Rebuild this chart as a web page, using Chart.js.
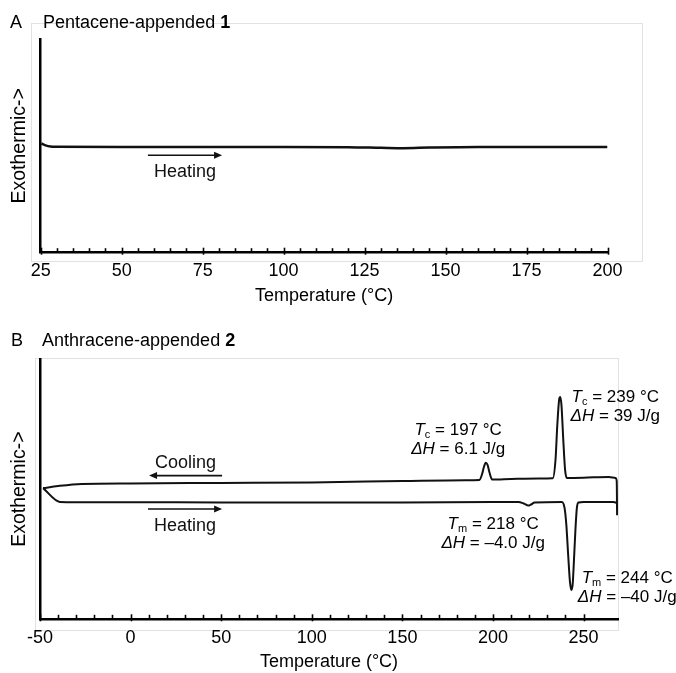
<!DOCTYPE html>
<html>
<head>
<meta charset="utf-8">
<script src="https://cdn.jsdelivr.net/npm/chart.js@4.4.1/dist/chart.umd.min.js"></script>
<style>
  html, body { margin: 0; padding: 0; background: #fff; }
  #wrap { position: relative; width: 676px; height: 673px; }
  .panel { position: absolute; left: 0; width: 676px; }
  #panelA { top: 0; height: 320px; }
  #panelB { top: 320px; height: 353px; }
</style>
</head>
<body>
<div id="wrap">
  <div class="panel" id="panelA"><canvas id="chartA"></canvas></div>
  <div class="panel" id="panelB"><canvas id="chartB"></canvas></div>
</div>
<script>
// Datos (flujo de calor en unidades arbitrarias, 0-100).
// Panel A: pentaceno, solo calentamiento.
const tempA = [25.2, 26.5, 28, 30, 50, 75, 100, 120, 130, 137, 145, 160, 180, 200];
const flujoA = [51.1, 50.2, 49.7, 49.6, 49.5, 49.5, 49.5, 49.4, 49.1, 48.9, 49.2, 49.5, 49.5, 49.5];
const etiquetasA = [25, 50, 75, 100, 125, 150, 175, 200];

// Panel B: antraceno, enfriamiento y calentamiento.
const tempEnfriamiento = [-48.3, -40, -27, 0, 50, 100, 150, 185, 192.5, 194, 195, 196, 197, 198, 199.5,
  210, 225, 233, 234.5, 235.5, 236.5, 237.1, 237.8, 238.8, 239.8, 240.8, 250, 264, 267.6, 268.3, 268.5];
const flujoEnfriamiento = [50.4, 51.2, 52.0, 52.2, 52.4, 52.6, 53.1, 53.4, 53.5, 55.8, 58.5, 60.1, 59.3, 56.6, 53.7,
  53.9, 54.1, 54.2, 61.2, 74.6, 84.3, 85.4, 82.3, 68.9, 57.4, 54.3, 54.4, 54.7, 54.3, 53.1, 40.0];
const tempCalentamiento = [-48.3, -39, -30, 0, 50, 100, 150, 200, 214, 217, 219.5, 221, 223,
  238, 239.5, 240.5, 241.5, 242.5, 243.3, 244, 244.7, 245.5, 246.3, 247.2, 250, 266.5, 268.3];
const flujoCalentamiento = [50.4, 45.1, 45.0, 45.0, 44.9, 44.9, 44.9, 45.1, 45.1, 44.5, 43.7, 44.1, 44.9,
  45.1, 42.8, 36.2, 24.7, 14.3, 11.3, 13.6, 22.8, 34.3, 42.8, 44.9, 45.1, 45.1, 44.7];
const etiquetasB = [-50, 0, 50, 100, 150, 200, 250];

const FUENTE = '"Liberation Sans", Arial, Helvetica, sans-serif';
const NEGRO = "#111";
const TAM = 18;

function fuenteDe(parte, size) {
  const s = parte.sub ? Math.round(size * 0.62) : size;
  return `${parte.italic ? "italic " : ""}${parte.bold ? "bold " : ""}${s}px ${FUENTE}`;
}

// Texto con partes en cursiva / negrita / subindice.
function textoMixto(ctx, partes, x, y, size, align) {
  let total = 0;
  partes.forEach(p => { ctx.font = fuenteDe(p, size); total += ctx.measureText(p.t).width; });
  let cx = align === "center" ? x - total / 2 : x;
  ctx.textAlign = "left";
  ctx.textBaseline = "alphabetic";
  partes.forEach(p => {
    ctx.font = fuenteDe(p, size);
    ctx.fillText(p.t, cx, p.sub ? y + size * 0.18 : y);
    cx += ctx.measureText(p.t).width;
  });
}

function flecha(ctx, x1, x2, y) {
  const dir = Math.sign(x2 - x1);
  ctx.beginPath();
  ctx.moveTo(x1, y);
  ctx.lineTo(x2 - dir * 6, y);
  ctx.stroke();
  ctx.beginPath();
  ctx.moveTo(x2, y);
  ctx.lineTo(x2 - dir * 8, y - 3.5);
  ctx.lineTo(x2 - dir * 8, y + 3.5);
  ctx.closePath();
  ctx.fill();
}

// Marco gris claro, marcas internas del eje x, titulo del panel, flechas y anotaciones.
const decoraciones = {
  id: "decoraciones",
  beforeDraw(chart, args, opts) {
    const { ctx, chartArea: a } = chart;
    const m = opts.marco;
    ctx.save();
    ctx.strokeStyle = "#e2e2e2";
    ctx.lineWidth = 1;
    ctx.strokeRect(a.left + m[0] + 0.5, a.top + m[1] + 0.5, a.right - a.left + m[2] - m[0], a.bottom - a.top + m[3] - m[1]);
    ctx.restore();
  },
  afterDraw(chart, args, opts) {
    const { ctx, chartArea: a, scales } = chart;
    const sx = scales.x;
    const sy = scales.y;
    ctx.save();

    // marcas del eje x hacia dentro
    ctx.strokeStyle = "#000";
    ctx.lineWidth = 1.6;
    sx.ticks.forEach(t => {
      if (t.value % opts.paso !== 0) return;
      const px = Math.round(sx.getPixelForValue(t.value)) + 0.5;
      const mayor = opts.etiquetas.includes(t.value);
      ctx.beginPath();
      ctx.moveTo(px, a.bottom - (mayor ? 5 : 4.5));
      ctx.lineTo(px, a.bottom + (mayor ? 2 : 0));
      ctx.stroke();
    });

    // titulo del panel
    ctx.fillStyle = "#000";
    textoMixto(ctx, [{ t: opts.letra }], opts.titulo.xLetra, opts.titulo.base, TAM, "left");
    textoMixto(ctx, opts.titulo.partes, opts.titulo.x, opts.titulo.base, TAM, "left");

    // flechas con rotulo
    ctx.fillStyle = NEGRO;
    ctx.strokeStyle = NEGRO;
    ctx.lineWidth = 1.6;
    opts.flechas.forEach(f => {
      const y = sy.getPixelForValue(f.y);
      flecha(ctx, sx.getPixelForValue(f.desde), sx.getPixelForValue(f.hasta), y);
      const xm = (sx.getPixelForValue(f.desde) + sx.getPixelForValue(f.hasta)) / 2;
      textoMixto(ctx, [{ t: f.texto }], xm, sy.getPixelForValue(f.yTexto), TAM, "center");
    });

    // anotaciones de picos
    ctx.fillStyle = "#000";
    opts.anotaciones.forEach(n => {
      const x = sx.getPixelForValue(n.x);
      const y = sy.getPixelForValue(n.y);
      n.lineas.forEach((partes, i) => textoMixto(ctx, partes, x, y + i * 19, 17, "center"));
    });
    ctx.restore();
  }
};

function serie(temps, flujos, grosor) {
  return {
    data: temps.map((t, i) => ({ x: t, y: flujos[i] })),
    showLine: true,
    borderColor: NEGRO,
    borderWidth: grosor,
    pointRadius: 0,
    cubicInterpolationMode: "monotone",
    fill: false
  };
}

function crearPanel(canvasId, cfg) {
  return new Chart(document.getElementById(canvasId), {
    type: "scatter",
    data: { datasets: cfg.series },
    options: {
      responsive: true,
      maintainAspectRatio: false,
      animation: false,
      layout: { padding: cfg.padding },
      plugins: {
        legend: { display: false },
        tooltip: { enabled: false },
        decoraciones: cfg.decoraciones
      },
      scales: {
        x: {
          type: "linear",
          min: cfg.min,
          max: cfg.max,
          afterFit: scale => { scale.height = cfg.altoEjeX; },
          border: { display: true, color: "#000", width: 2.5 },
          grid: { display: false, drawTicks: false },
          ticks: {
            stepSize: cfg.paso,
            autoSkip: false,
            maxRotation: 0,
            padding: 7.5,
            color: "#000",
            font: { family: FUENTE, size: TAM },
            callback: value => cfg.decoraciones.etiquetas.includes(value) ? String(value) : ""
          },
          title: {
            display: true,
            text: "Temperature (°C)",
            color: "#000",
            font: { family: FUENTE, size: TAM },
            padding: { top: 0, bottom: cfg.padTituloX }
          }
        },
        y: {
          min: 0,
          max: 100,
          afterFit: scale => { scale.width = cfg.anchoEjeY; },
          border: { display: true, color: "#000", width: 2.5 },
          grid: { display: false, drawTicks: false },
          ticks: { display: false },
          title: {
            display: true,
            text: "Exothermic->",
            color: "#000",
            font: { family: FUENTE, size: 19.5 },
            padding: { top: 8, bottom: 0 }
          }
        }
      }
    },
    plugins: [decoraciones]
  });
}

crearPanel("chartA", {
  series: [serie(tempA, flujoA, 2.5)],
  min: 25,
  max: 200,
  paso: 5,
  padding: { top: 39, right: 68.5, bottom: 7.3, left: 0 },
  altoEjeX: 60,
  anchoEjeY: 40.7,
  padTituloX: 5.9,
  decoraciones: {
    letra: "A",
    etiquetas: etiquetasA,
    paso: 5,
    marco: [-9.7, -16, 34.5, 8.3],
    titulo: { xLetra: 10, x: 43, base: 28, partes: [{ t: "Pentacene-appended " }, { t: "1", bold: true }] },
    flechas: [{ desde: 58.1, hasta: 81, y: 45.6, texto: "Heating", yTexto: 35.4 }],
    anotaciones: []
  }
});

const dH = { t: "ΔH", italic: true };
crearPanel("chartB", {
  series: [
    serie(tempEnfriamiento, flujoEnfriamiento, 2),
    serie(tempCalentamiento, flujoCalentamiento, 2)
  ],
  min: -50,
  max: 269,
  paso: 10,
  padding: { top: 39, right: 58, bottom: 0, left: 0 },
  altoEjeX: 53.7,
  anchoEjeY: 40,
  padTituloX: 0.2,
  decoraciones: {
    letra: "B",
    etiquetas: etiquetasB,
    paso: 10,
    marco: [-5, -1, 0, 10.7],
    titulo: { xLetra: 11, x: 42, base: 26, partes: [{ t: "Anthracene-appended " }, { t: "2", bold: true }] },
    flechas: [
      { desde: 50.5, hasta: 10.2, y: 55.2, texto: "Cooling", yTexto: 58.1 },
      { desde: 9.6, hasta: 50.5, y: 42.4, texto: "Heating", yTexto: 34.0 }
    ],
    anotaciones: [
      { x: 180.8, y: 70.8, lineas: [[{ t: "T", italic: true }, { t: "c", sub: true }, { t: " = 197 °C" }], [dH, { t: " = 6.1 J/g" }]] },
      { x: 267.5, y: 83.6, lineas: [[{ t: "T", italic: true }, { t: "c", sub: true }, { t: " = 239 °C" }], [dH, { t: " = 39 J/g" }]] },
      { x: 200.1, y: 34.7, lineas: [[{ t: "T", italic: true }, { t: "m", sub: true }, { t: " = 218 °C" }], [dH, { t: " = –4.0 J/g" }]] },
      { x: 274.1, y: 13.9, lineas: [[{ t: "T", italic: true }, { t: "m", sub: true }, { t: " = 244 °C" }], [dH, { t: " = –40 J/g" }]] }
    ]
  }
});
</script>
</body>
</html>
